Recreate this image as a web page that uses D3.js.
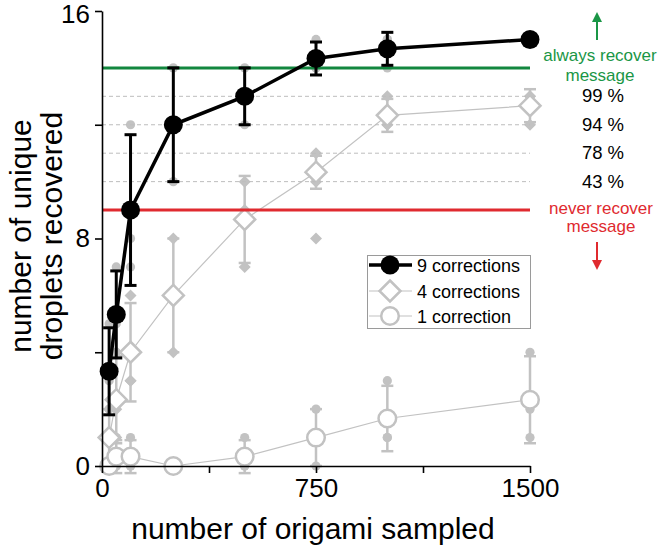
<!DOCTYPE html>
<html>
<head>
<meta charset="utf-8">
<script src="https://cdn.jsdelivr.net/npm/d3@7/dist/d3.min.js"></script>
<style>
  html, body { margin: 0; padding: 0; background: #fff; }
  svg { display: block; font-family: "Liberation Sans", Arial, sans-serif; }
</style>
</head>
<body>
<svg id="chart" width="658" height="553"></svg>
<script>
// ---------- data ----------
const xValues = [25, 50, 100, 250, 500, 750, 1000, 1500];

const corr9Mean = [3.33, 5.33, 9.0, 12.0, 13.0, 14.33, 14.67, 15.0];
const corr9Err  = [1.53, 1.53, 2.65, 2.0, 1.0, 0.58, 0.58, 0];
const corr9Reps = [[5,3,2],[7,5,4],[12,8,7],[14,12,10],[14,13,12],[15,14,14],[15,15,14],[15,15,15]];

const corr4Mean = [1.0, 2.33, 4.0, 6.0, 8.67, 10.33, 12.33, 12.67];
const corr4Err  = [1.0, 1.53, 1.73, 2.0, 1.53, 0.58, 0.58, 0.58];
const corr4Reps = [[2,1,0],[4,2,1],[6,3,3],[8,6,4],[10,9,7],[11,10,8],[13,12,12],[13,13,12]];

const corr1Mean = [0, 0.33, 0.33, 0, 0.33, 1.0, 1.67, 2.33];
const corr1Err  = [0, 0.58, 0.58, 0, 0.58, 1.0, 1.15, 1.53];
const corr1Reps = [[0,0,0],[1,0,0],[1,0,0],[0,0,0],[1,0,0],[2,1,0],[3,1,1],[4,2,1]];

const xTickValues = [0, 750, 1500];
const xMinorTicks = [375, 1125];
const yTickValues = [0, 8, 16];
const yMinorTicks = [4, 12];

const alwaysLevel = 14;
const neverLevel = 9;
const thresholdLevels = [13, 12, 11, 10];
const thresholdLabels = ["99 %", "94 %", "78 %", "43 %"];

const legendLabels = ["9 corrections", "4 corrections", "1 correction"];

// ---------- scales ----------
const svg = d3.select("#chart");
const x = d3.scaleLinear().domain([0, 1500]).range([102, 530]);
const y = d3.scaleLinear().domain([0, 16]).range([466, 11]);

const GRAY = "#c2c2c2";
const GREEN_LINE = "#12873f";
const GREEN_TXT = "#1a9646";
const RED = "#e02a2f";

// ---------- helpers ----------
const diamond = (cx, cy, r) => `M${cx},${cy - r}L${cx + r},${cy}L${cx},${cy + r}L${cx - r},${cy}Z`;

function errorBars(g, means, errs, color, width) {
  xValues.forEach((xv, i) => {
    if (!errs[i]) return;
    const px = x(xv), y1 = y(means[i] + errs[i]), y2 = y(means[i] - errs[i]);
    g.append("line").attr("x1", px).attr("x2", px).attr("y1", y1).attr("y2", y2)
      .attr("stroke", color).attr("stroke-width", width);
    [y1, y2].forEach(yy => g.append("line").attr("x1", px - 6).attr("x2", px + 6)
      .attr("y1", yy).attr("y2", yy).attr("stroke", color).attr("stroke-width", width));
  });
}

function replicates(g, reps, shape) {
  xValues.forEach((xv, i) => {
    reps[i].forEach(v => {
      if (shape === "diamond") {
        g.append("path").attr("d", diamond(x(xv), y(v), 6)).attr("fill", GRAY);
      } else {
        g.append("circle").attr("cx", x(xv)).attr("cy", y(v)).attr("r", 4.6).attr("fill", GRAY);
      }
    });
  });
}

const lineGen = d3.line().x(d => x(d[0])).y(d => y(d[1]));

// ---------- gray series ----------
const gGray = svg.append("g");
errorBars(gGray, corr1Mean, corr1Err, GRAY, 2.5);
errorBars(gGray, corr4Mean, corr4Err, GRAY, 2.5);
replicates(gGray, corr1Reps, "circle");
replicates(gGray, corr4Reps, "diamond");
replicates(gGray, corr9Reps, "circle");

gGray.append("path").datum(xValues.map((v, i) => [v, corr1Mean[i]]))
  .attr("d", lineGen).attr("fill", "none").attr("stroke", GRAY).attr("stroke-width", 1.2);
gGray.append("path").datum(xValues.map((v, i) => [v, corr4Mean[i]]))
  .attr("d", lineGen).attr("fill", "none").attr("stroke", GRAY).attr("stroke-width", 1.2);

xValues.forEach((xv, i) => {
  gGray.append("circle").attr("cx", x(xv)).attr("cy", y(corr1Mean[i])).attr("r", 8.8)
    .attr("fill", "#fff").attr("stroke", GRAY).attr("stroke-width", 2.5);
});
xValues.forEach((xv, i) => {
  gGray.append("path").attr("d", diamond(x(xv), y(corr4Mean[i]), 10.5))
    .attr("fill", "#fff").attr("stroke", GRAY).attr("stroke-width", 2.5);
});

// ---------- reference lines ----------
const gRef = svg.append("g");
thresholdLevels.forEach(v => {
  gRef.append("line").attr("x1", x(0)).attr("x2", x(1500)).attr("y1", y(v)).attr("y2", y(v))
    .attr("stroke", "#bdbdbd").attr("stroke-width", 1).attr("stroke-dasharray", "4,3");
});
gRef.append("line").attr("x1", x(0)).attr("x2", x(1500)).attr("y1", y(alwaysLevel)).attr("y2", y(alwaysLevel))
  .attr("stroke", GREEN_LINE).attr("stroke-width", 3);
gRef.append("line").attr("x1", x(0)).attr("x2", x(1500)).attr("y1", y(neverLevel)).attr("y2", y(neverLevel))
  .attr("stroke", RED).attr("stroke-width", 3);

// ---------- black series ----------
const gBlack = svg.append("g");
errorBars(gBlack, corr9Mean, corr9Err, "#000", 3);
gBlack.append("path").datum(xValues.map((v, i) => [v, corr9Mean[i]]))
  .attr("d", lineGen).attr("fill", "none").attr("stroke", "#000").attr("stroke-width", 3.5);
xValues.forEach((xv, i) => {
  gBlack.append("circle").attr("cx", x(xv)).attr("cy", y(corr9Mean[i])).attr("r", 9.5).attr("fill", "#000");
});

// ---------- axes ----------
svg.append("g").attr("transform", `translate(0,${y(0)})`)
  .call(d3.axisBottom(x).tickValues(xTickValues).tickFormat(d3.format("d"))
    .tickSize(7).tickSizeOuter(0).tickPadding(6));
svg.append("g").attr("transform", `translate(0,${y(0)})`)
  .call(d3.axisBottom(x).tickValues(xMinorTicks).tickSize(7).tickSizeOuter(0).tickFormat(""))
  .select(".domain").remove();
const yAxisG = svg.append("g").attr("transform", `translate(${x(0)},0)`)
  .call(d3.axisLeft(y).tickValues(yTickValues).tickFormat(d3.format("d"))
    .tickSize(7).tickSizeOuter(0).tickPadding(5));
svg.append("g").attr("transform", `translate(${x(0)},0)`)
  .call(d3.axisLeft(y).tickValues(yMinorTicks).tickSize(7).tickSizeOuter(0).tickFormat(""))
  .select(".domain").remove();

svg.selectAll(".domain").attr("stroke", "#000").attr("stroke-width", 1.6);
svg.selectAll(".tick line").attr("stroke", "#000").attr("stroke-width", 1.6);
svg.selectAll(".tick text").attr("fill", "#000").style("font-size", "26px")
  .style("font-family", "'Liberation Sans', Arial, sans-serif");
// keep the top label inside the picture
yAxisG.selectAll(".tick text").filter(d => d === 16).attr("dy", "0.46em");

// ---------- titles ----------
svg.append("text").attr("x", 313).attr("y", 539).attr("text-anchor", "middle")
  .style("font-size", "30px").text("number of origami sampled");
const yt = svg.append("text").attr("transform", "translate(31,236) rotate(-90)").attr("text-anchor", "middle")
  .style("font-size", "30px");
yt.append("tspan").attr("x", 0).attr("dy", 0).text("number of unique");
yt.append("tspan").attr("x", 0).attr("dy", 31).text("droplets recovered");

// ---------- right annotations ----------
const ann = svg.append("g");
function arrow(xc, yTail, yTip, color) {
  const dir = yTip < yTail ? 1 : -1;
  ann.append("line").attr("x1", xc).attr("x2", xc).attr("y1", yTail).attr("y2", yTip + dir * 8)
    .attr("stroke", color).attr("stroke-width", 2);
  ann.append("path").attr("d", `M${xc},${yTip}L${xc - 5},${yTip + dir * 10}L${xc + 5},${yTip + dir * 10}Z`)
    .attr("fill", color);
}
arrow(597, 40, 12, GREEN_TXT);
ann.append("text").attr("x", 600).attr("y", 61).attr("text-anchor", "middle").attr("fill", GREEN_TXT)
  .style("font-size", "17px").text("always recover");
ann.append("text").attr("x", 600).attr("y", 81).attr("text-anchor", "middle").attr("fill", GREEN_TXT)
  .style("font-size", "17px").text("message");
thresholdLevels.forEach((v, i) => {
  ann.append("text").attr("x", 603).attr("y", y(v) + 6).attr("text-anchor", "middle").attr("fill", "#000")
    .style("font-size", "18.5px").text(thresholdLabels[i]);
});
ann.append("text").attr("x", 601).attr("y", 214).attr("text-anchor", "middle").attr("fill", RED)
  .style("font-size", "17px").text("never recover");
ann.append("text").attr("x", 601).attr("y", 232).attr("text-anchor", "middle").attr("fill", RED)
  .style("font-size", "17px").text("message");
arrow(597, 242, 270, RED);

// ---------- legend ----------
const lg = svg.append("g");
lg.append("rect").attr("x", 367.5).attr("y", 255.5).attr("width", 163).attr("height", 73)
  .attr("fill", "#fff").attr("stroke", "#9a9a9a").attr("stroke-width", 1);
const legY = [265, 291, 316];
lg.append("line").attr("x1", 369).attr("x2", 412).attr("y1", legY[0]).attr("y2", legY[0])
  .attr("stroke", "#000").attr("stroke-width", 3.5);
lg.append("circle").attr("cx", 390).attr("cy", legY[0]).attr("r", 9.5).attr("fill", "#000");
lg.append("line").attr("x1", 369).attr("x2", 412).attr("y1", legY[1]).attr("y2", legY[1])
  .attr("stroke", GRAY).attr("stroke-width", 1.2);
lg.append("path").attr("d", diamond(390, legY[1], 10.5)).attr("fill", "#fff").attr("stroke", GRAY).attr("stroke-width", 2.5);
lg.append("line").attr("x1", 369).attr("x2", 412).attr("y1", legY[2]).attr("y2", legY[2])
  .attr("stroke", GRAY).attr("stroke-width", 1.2);
lg.append("circle").attr("cx", 390).attr("cy", legY[2]).attr("r", 8.8).attr("fill", "#fff").attr("stroke", GRAY).attr("stroke-width", 2.5);
legendLabels.forEach((t, i) => {
  lg.append("text").attr("x", 417).attr("y", legY[i] + 6.5).attr("fill", "#000")
    .style("font-size", "18px").text(t);
});
</script>
</body>
</html>
